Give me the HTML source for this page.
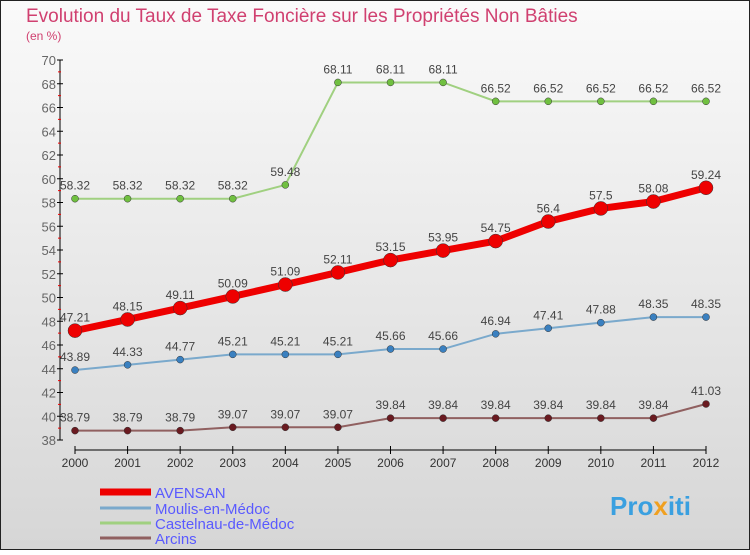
<!DOCTYPE html>
<html><head><meta charset="utf-8"><style>
body{margin:0;width:750px;height:550px;overflow:hidden;font-family:"Liberation Sans",sans-serif}
</style></head><body>
<svg id="c" width="750" height="550" xmlns="http://www.w3.org/2000/svg">
<defs><linearGradient id="bg" x1="0" y1="0" x2="0" y2="1"><stop offset="0" stop-color="#fafafa"/><stop offset="1" stop-color="#d6d6d6"/></linearGradient></defs>
<rect x="0.5" y="0.5" width="749" height="549" fill="url(#bg)" stroke="#222"/>
<text x="26" y="22" font-size="19" fill="#d04070">Evolution du Taux de Taxe Foncière sur les Propriétés Non Bâties</text>
<text x="26" y="40" font-size="12" fill="#d04070">(en %)</text>
<g id="axes"></g><g id="series"></g>
<g>
<line x1="100" y1="492" x2="151" y2="492" stroke="#e00" stroke-width="7"/>
<text x="155" y="498" font-size="15" fill="#5a5aff">AVENSAN</text>
<line x1="100" y1="508" x2="151" y2="508" stroke="#7aa9cc" stroke-width="3"/>
<text x="155" y="514" font-size="15" fill="#5a5aff">Moulis-en-Médoc</text>
<line x1="100" y1="523" x2="151" y2="523" stroke="#a0d080" stroke-width="3"/>
<text x="155" y="529" font-size="15" fill="#5a5aff">Castelnau-de-Médoc</text>
<line x1="100" y1="538" x2="151" y2="538" stroke="#906060" stroke-width="3"/>
<text x="155" y="544" font-size="15" fill="#5a5aff">Arcins</text>
</g>
<text x="610" y="515" font-size="26" font-weight="bold" fill="#3aa0e0">Pro<tspan fill="#f0a020">x</tspan>iti</text>
</svg>
<script>
const years=[2000,2001,2002,2003,2004,2005,2006,2007,2008,2009,2010,2011,2012];
const avensan=[47.21,48.15,49.11,50.09,51.09,52.11,53.15,53.95,54.75,56.4,57.5,58.08,59.24];
const moulis=[43.89,44.33,44.77,45.21,45.21,45.21,45.66,45.66,46.94,47.41,47.88,48.35,48.35];
const castelnau=[58.32,58.32,58.32,58.32,59.48,68.11,68.11,68.11,66.52,66.52,66.52,66.52,66.52];
const arcins=[38.79,38.79,38.79,39.07,39.07,39.07,39.84,39.84,39.84,39.84,39.84,39.84,41.03];
const yTicks=[38,40,42,44,46,48,50,52,54,56,58,60,62,64,66,68,70];
const NS="http://www.w3.org/2000/svg";
const x=i=>75+i*(706-75)/(years.length-1);
const y=v=>440-(v-38)*(380/32);
function mk(t,a,p){const e=document.createElementNS(NS,t);for(const k in a)e.setAttribute(k,a[k]);p.appendChild(e);return e;}
const ax=document.getElementById('axes');
let l=mk('line',{x1:60,y1:y(70),x2:60,y2:y(38),stroke:'#000'},ax);


yTicks.forEach(v=>{
 mk('line',{x1:57,y1:y(v),x2:63,y2:y(v),stroke:'#000'},ax);
 if(v<70)mk('line',{x1:58,y1:y(v+1),x2:61,y2:y(v+1),stroke:'#e00'},ax);
 const t=mk('text',{x:56,y:y(v)+5,'font-size':13,fill:'#666','text-anchor':'end'},ax);t.textContent=v;
 
 
});
l=mk('line',{x1:75,y1:450,x2:706,y2:450,stroke:'#000'},ax);


years.forEach((yr,i)=>{
 mk('line',{x1:x(i),y1:446,x2:x(i),y2:454,stroke:'#000'},ax);
 const t=mk('text',{x:x(i),y:467,'font-size':12,fill:'#333','text-anchor':'middle'},ax);t.textContent=yr;
 
 
});
const sg=document.getElementById('series');
function series(name,data,col,dot,w,r){
 const g=mk('g',{},sg);
 
 
 mk('polyline',{points:data.map((v,i)=>x(i)+','+y(v)).join(' '),fill:'none',stroke:col,'stroke-width':w},g);
 data.forEach((v,i)=>{
  const c=mk('circle',{cx:x(i),cy:y(v),r:r,fill:dot,stroke:'#333','stroke-width':0.5},g);
  
  
  const t=mk('text',{x:x(i),y:y(v)-9,'font-size':12,fill:'#444','text-anchor':'middle'},g);t.textContent=v;
  
  
 });
}
series('arcins',arcins,'#906060','#6a1a20',2,3.5);
series('moulis',moulis,'#7aa9cc','#3a80c0',2,3.5);
series('castelnau',castelnau,'#a0d080','#70c040',2,3.5);
series('avensan',avensan,'#e00','#e00',7,7);
</script>
</body></html>
